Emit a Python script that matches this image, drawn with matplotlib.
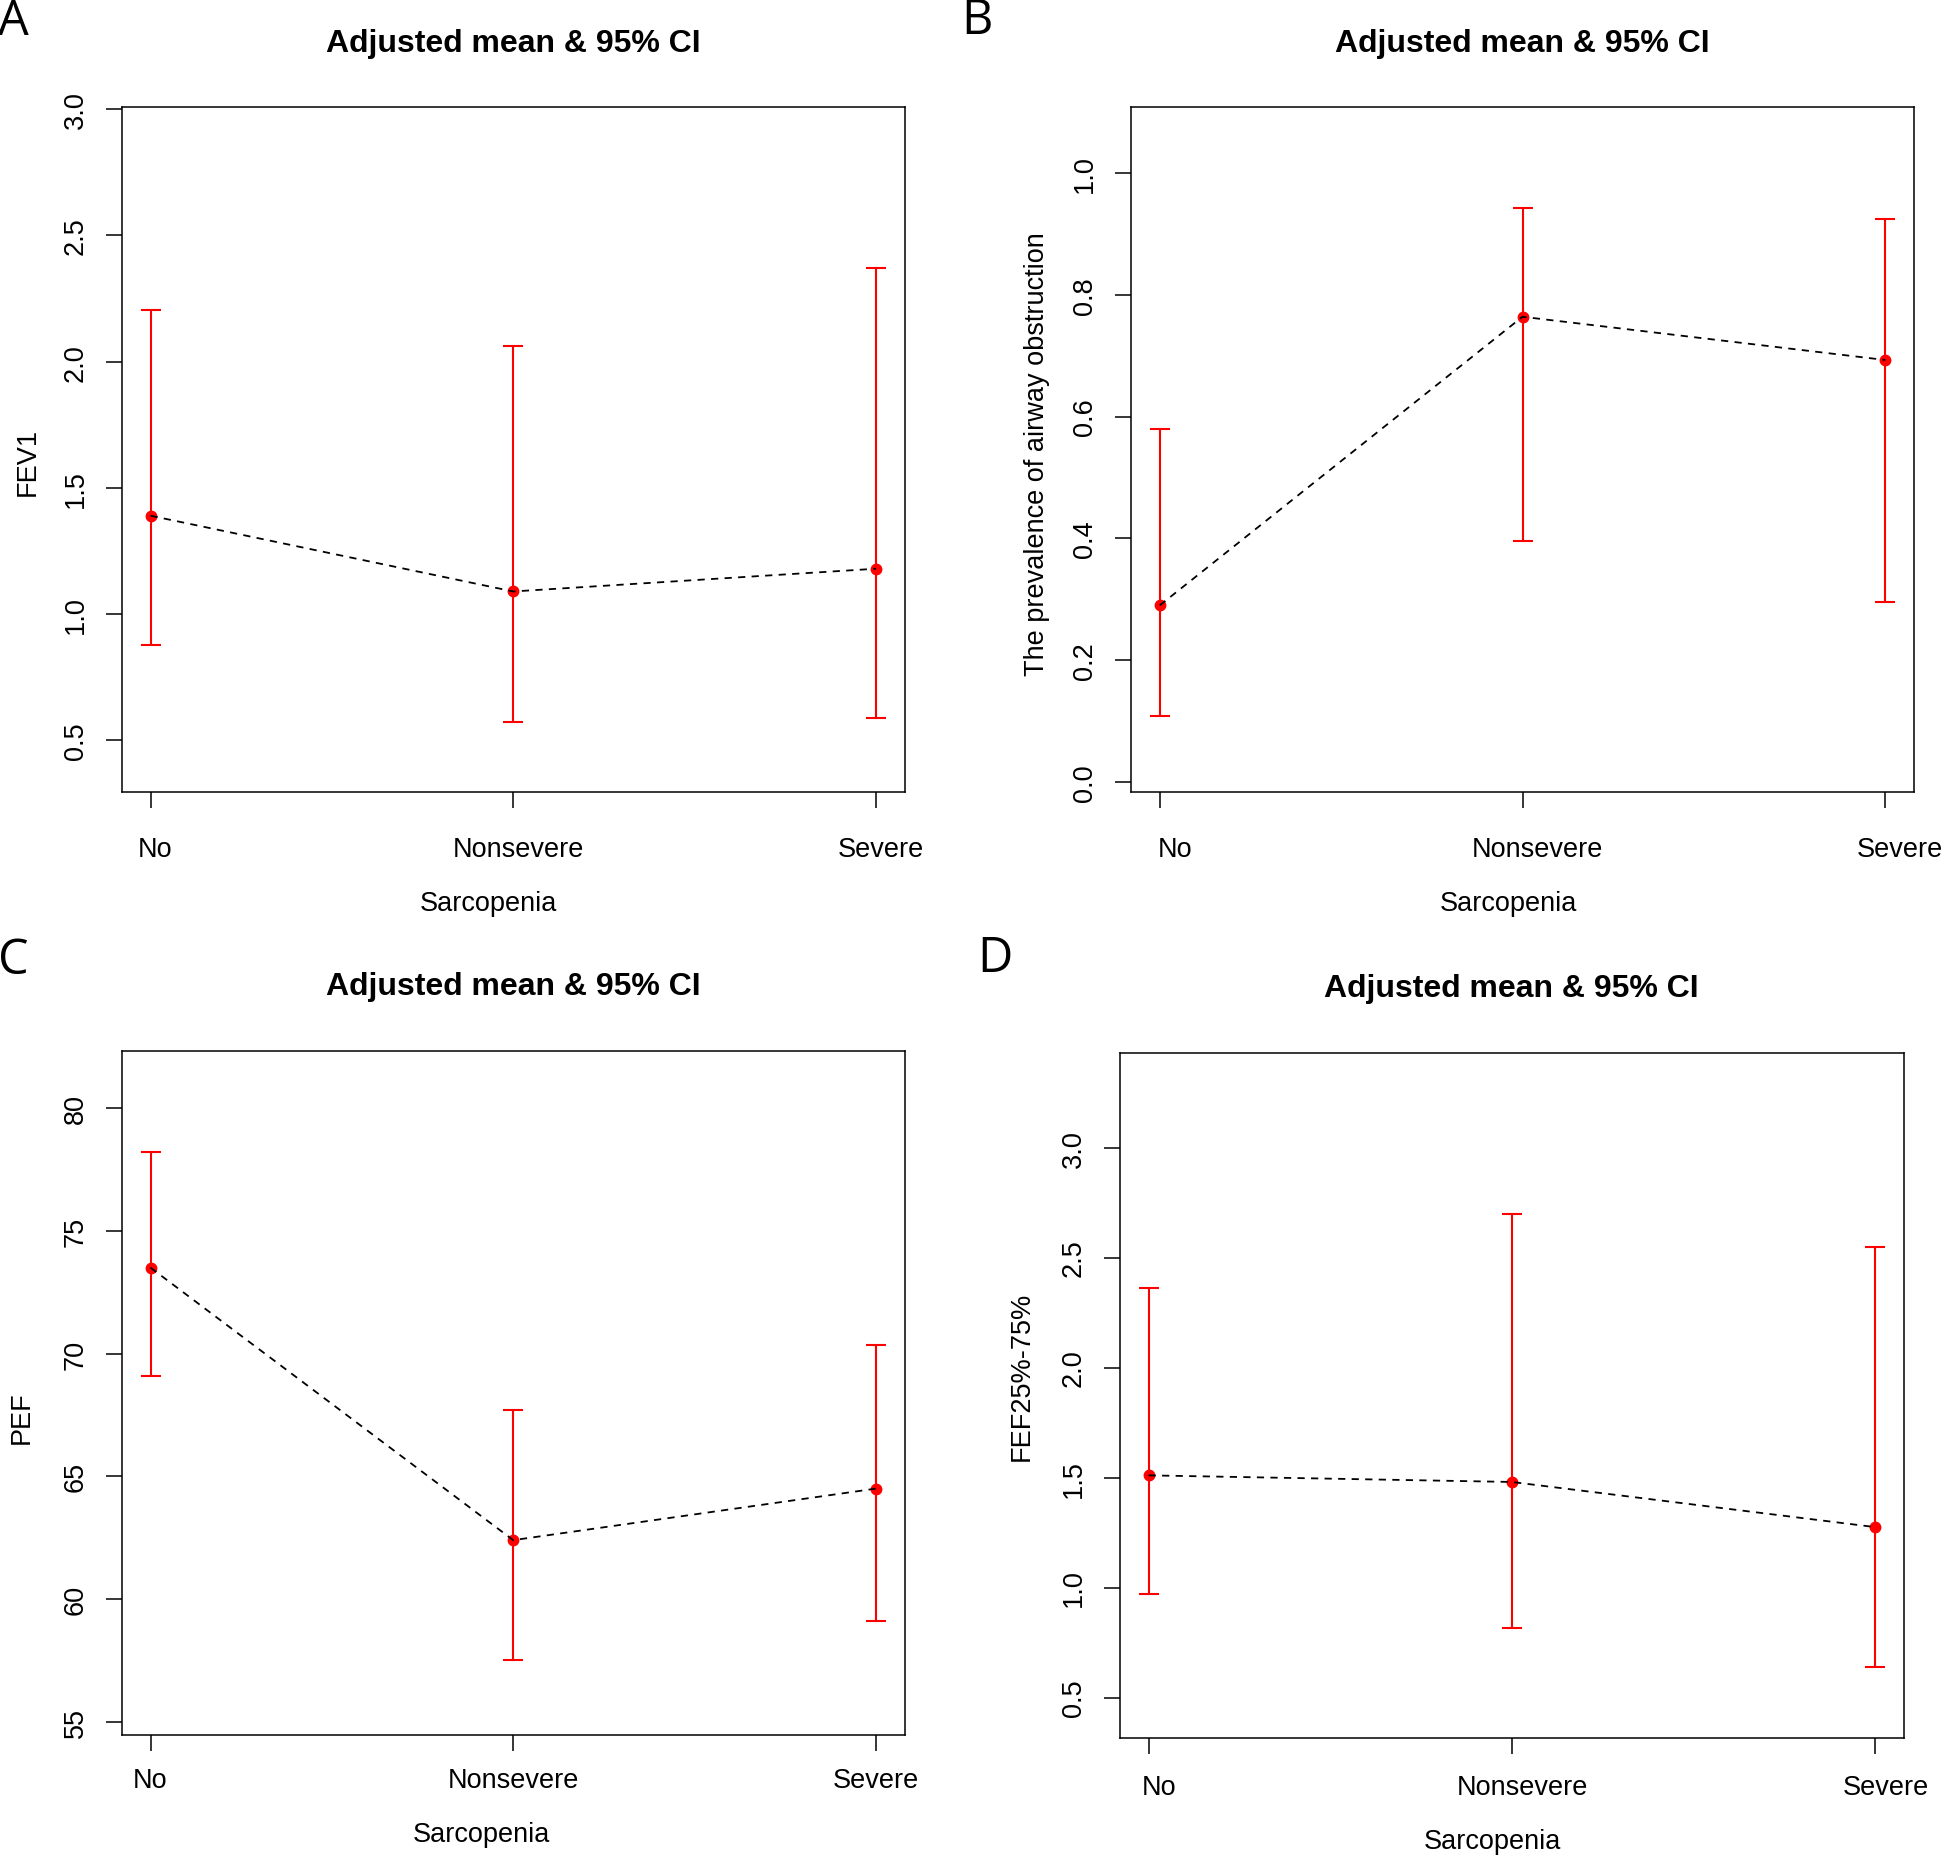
import matplotlib
matplotlib.use("Agg")
import matplotlib.pyplot as plt
import matplotlib.transforms as mtransforms
import numpy as np

plt.rcParams['font.family'] = ['Liberation Sans', 'DejaVu Sans']

# data
groups = ['No', 'Nonsevere', 'Severe']
x_label = 'Sarcopenia'
title = 'Adjusted mean & 95% CI'

fev1_mean = [1.39, 1.09, 1.18]
fev1_lower = [0.88, 0.575, 0.59]
fev1_upper = [2.205, 2.06, 2.37]

airway_mean = [0.29, 0.764, 0.693]
airway_lower = [0.108, 0.396, 0.296]
airway_upper = [0.580, 0.942, 0.924]

pef_mean = [73.5, 62.4, 64.5]
pef_lower = [69.1, 57.5, 59.1]
pef_upper = [78.2, 67.7, 70.35]

fef_mean = [1.51, 1.48, 1.275]
fef_lower = [0.97, 0.815, 0.64]
fef_upper = [2.36, 2.70, 2.55]

fig = plt.figure(figsize=(19.44, 18.56), dpi=100)
W, H = 1944.0, 1856.0


def draw_panel(rect_px, mean, lower, upper, ylabel, yticks, fmt, ylim,
               letter, letter_xy, xpad, xshift, xlab_xy, ylab_xy):
    l, t, r, b = rect_px
    ax = fig.add_axes([l / W, 1 - b / H, (r - l) / W, (b - t) / H])
    x = np.arange(1, len(groups) + 1)
    mean = np.array(mean)
    lower = np.array(lower)
    upper = np.array(upper)

    ax.errorbar(x, mean, yerr=[mean - lower, upper - mean], fmt='none',
                ecolor='red', elinewidth=1.5, capsize=7.5, capthick=1.5, zorder=2)
    ax.plot(x, mean, 'o', color='red', ms=7.5, zorder=3)
    ax.plot(x, mean, color='black', ls=(0, (4, 3.5)), lw=1.3, zorder=4)

    ax.set_xlim(0.92, 3.08)
    ax.set_ylim(*ylim)
    ax.set_xticks(x)
    ax.set_xticklabels(groups)
    ax.set_yticks(yticks)
    ax.set_yticklabels([fmt.format(v) for v in yticks])

    ax.tick_params(axis='both', direction='out', length=11.5, width=1.1,
                   labelsize=19.5, colors='black')
    ax.tick_params(axis='y', labelrotation=90, pad=12)
    ax.tick_params(axis='x', pad=xpad)
    for lab in ax.get_yticklabels():
        lab.set_va('center')
    off = mtransforms.ScaledTranslation(xshift / 100.0, 0, fig.dpi_scale_trans)
    for lab in ax.get_xticklabels():
        lab.set_transform(lab.get_transform() + off)

    for s in ax.spines.values():
        s.set_linewidth(1.1)

    ax.set_xlabel(x_label, fontsize=19.5)
    ax.xaxis.label.set_va('center')
    ax.xaxis.set_label_coords(*xlab_xy)
    ax.set_ylabel(ylabel, fontsize=19.5)
    ax.yaxis.label.set_va('center')
    ax.yaxis.set_label_coords(*ylab_xy)

    h = b - t
    ax.text(0.5, 1 + 64.5 / h, title, transform=ax.transAxes, ha='center',
            va='center', fontsize=23, fontweight='bold')

    fig.text(letter_xy[0] / W, 1 - letter_xy[1] / H, letter, fontsize=35,
             family=['Open Sans', 'DejaVu Sans'], ha='left', va='center')
    return ax


draw_panel((121.5, 108.3, 905, 793.0), fev1_mean, fev1_lower, fev1_upper,
           'FEV1', [0.5, 1.0, 1.5, 2.0, 2.5, 3.0], '{:.1f}', (0.296, 3.007),
           'A', (-2, 22), 20, 5, (0.468, -0.162), (-0.1193, 0.484))

draw_panel((1130.7, 108.3, 1914.3, 793.0), airway_mean, airway_lower, airway_upper,
           'The prevalence of airway obstruction', [0.0, 0.2, 0.4, 0.6, 0.8, 1.0],
           '{:.1f}', (-0.0165, 1.108),
           'B', (961, 21), 20, 15, (0.4815, -0.162), (-0.1196, 0.495))

draw_panel((121.5, 1051.7, 905, 1735.8), pef_mean, pef_lower, pef_upper,
           'PEF', [55, 60, 65, 70, 75, 80], '{:d}', (54.47, 82.34),
           'C', (-2, 961), 11.5, 0, (0.460, -0.1445), (-0.1274, 0.4646))

draw_panel((1119.5, 1054.0, 1903.8, 1738.8), fef_mean, fef_lower, fef_upper,
           'FEF25%-75%', [0.5, 1.0, 1.5, 2.0, 2.5, 3.0], '{:.1f}', (0.317, 3.43),
           'D', (977, 959), 14.8, 11, (0.4758, -0.151), (-0.125, 0.5298))

fig.savefig('out.png', dpi=100, facecolor='white')
